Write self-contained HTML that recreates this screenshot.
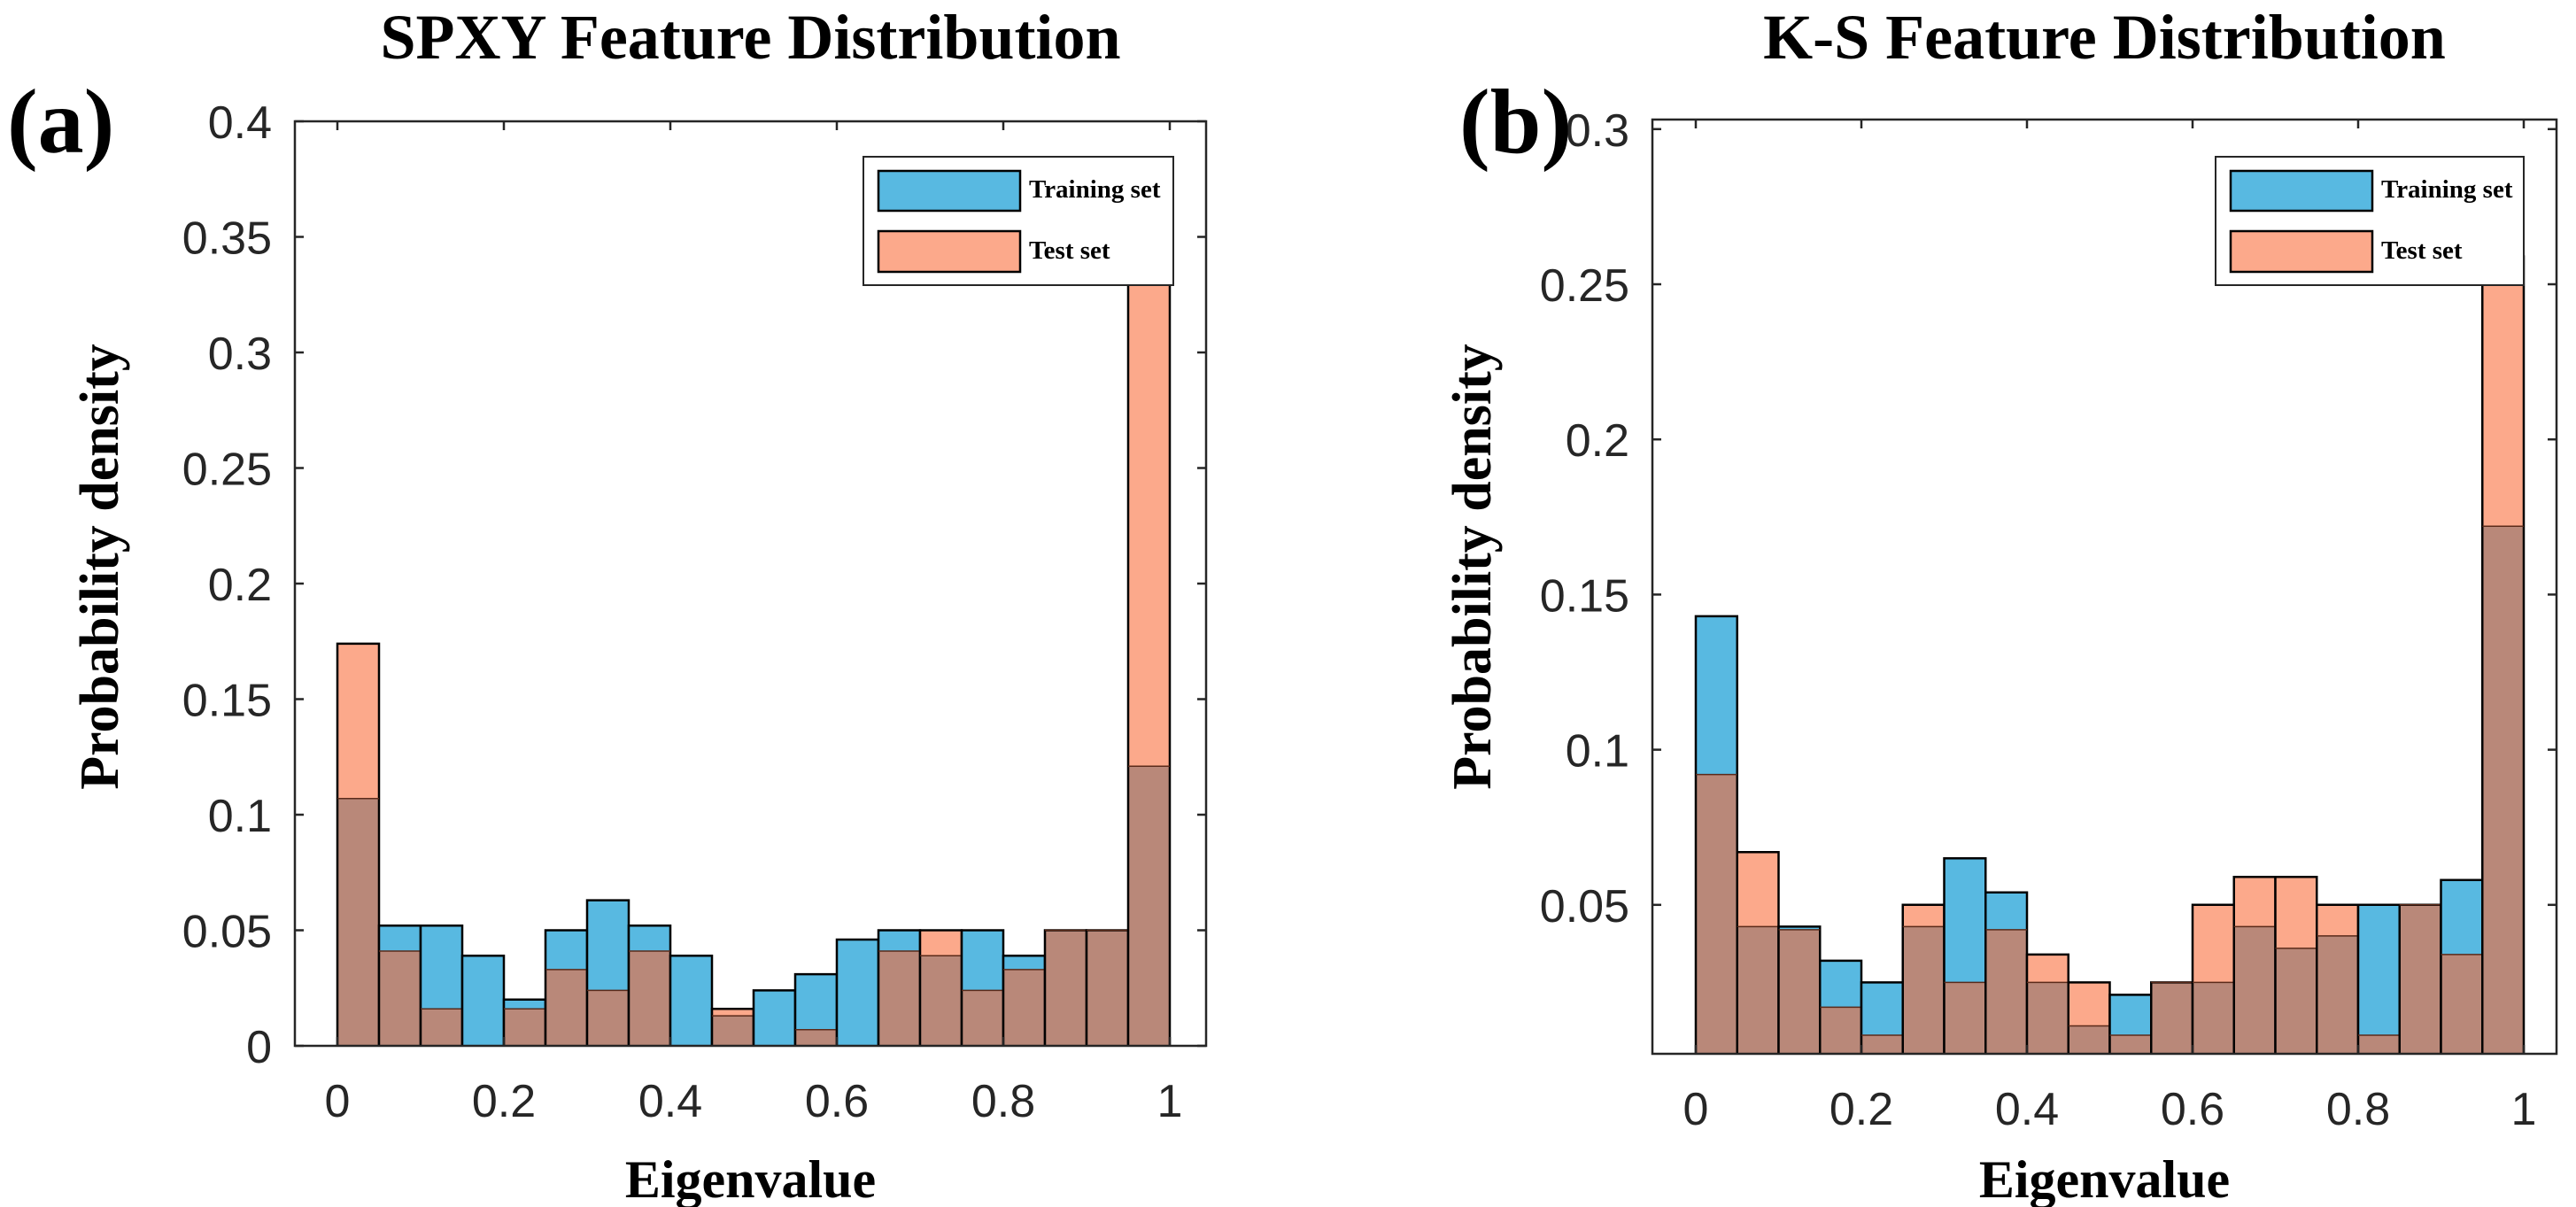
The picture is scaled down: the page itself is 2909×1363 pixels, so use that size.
<!DOCTYPE html>
<html><head><meta charset="utf-8">
<style>
html,body{margin:0;padding:0;background:#fff;}
svg{display:block;}
.tick{font-family:"Liberation Sans",Arial,sans-serif;font-size:52px;fill:#262626;}
.ser{font-family:"Liberation Serif","Times New Roman",serif;font-weight:bold;fill:#000;}
</style></head>
<body>
<svg id="fig" width="2909" height="1363" viewBox="0 0 2909 1363" xmlns="http://www.w3.org/2000/svg">
</svg>
<script>
// ---- data ----
const binEdges = [0,0.05,0.1,0.15,0.2,0.25,0.3,0.35,0.4,0.45,0.5,0.55,0.6,0.65,0.7,0.75,0.8,0.85,0.9,0.95,1.0];
const spxyTrain = [0.107,0.052,0.052,0.039,0.020,0.050,0.063,0.052,0.039,0.013,0.024,0.031,0.046,0.050,0.039,0.050,0.039,0.050,0.050,0.121];
const spxyTest  = [0.174,0.041,0.016,0.000,0.016,0.033,0.024,0.041,0.000,0.016,0.000,0.007,0.000,0.041,0.050,0.024,0.033,0.050,0.050,0.340];
const ksTrain = [0.143,0.043,0.043,0.032,0.025,0.043,0.065,0.054,0.025,0.011,0.021,0.025,0.025,0.043,0.036,0.040,0.050,0.050,0.058,0.172];
const ksTest  = [0.092,0.067,0.042,0.017,0.008,0.050,0.025,0.042,0.034,0.025,0.008,0.025,0.050,0.059,0.059,0.050,0.008,0.050,0.034,0.259];
const xTicks = [0,0.2,0.4,0.6,0.8,1];
const xTickLabels = ["0","0.2","0.4","0.6","0.8","1"];
const spxyYTicks = [0,0.05,0.1,0.15,0.2,0.25,0.3,0.35,0.4];
const spxyYLabels = ["0","0.05","0.1","0.15","0.2","0.25","0.3","0.35","0.4"];
const ksYTicks = [0.05,0.1,0.15,0.2,0.25,0.3];
const ksYLabels = ["0.05","0.1","0.15","0.2","0.25","0.3"];

const NS = "http://www.w3.org/2000/svg";
const svg = document.getElementById('fig');
function mk(tag, attrs, parent){
  const e = document.createElementNS(NS, tag);
  for (const k in attrs) e.setAttribute(k, attrs[k]);
  (parent||svg).appendChild(e);
  return e;
}

function panel(cfg){
  const g = mk('g', {});
  
  
  const X = v => cfg.x0 + v*cfg.xs;
  const Y = v => Math.min(cfg.bottom, cfg.y0 - v*cfg.ys);
  for (let i=0;i<cfg.train.length;i++){
    const xa = X(binEdges[i]), xb = X(binEdges[i+1]);
    const tr = cfg.train[i], te = cfg.test[i], lo = Math.min(tr,te);
    if (tr > 0){
      const r = mk('rect',{x:xa,y:Y(tr),width:xb-xa,height:Y(0)-Y(tr),fill:'#58b9e1'},g);
      
      
    }
    if (te > 0){
      const r = mk('rect',{x:xa,y:Y(te),width:xb-xa,height:Y(0)-Y(te),fill:'#fca98b'},g);
      
      
    }
    if (lo > 0){
      mk('rect',{x:xa,y:Y(lo),width:xb-xa,height:Y(0)-Y(lo),fill:'#b98879'},g);
    }
    const hi = Math.max(tr,te);
    if (hi > 0){
      mk('path',{d:`M${xa},${Y(0)}V${Y(hi)}H${xb}V${Y(0)}`,fill:'none',stroke:'#000','stroke-width':2.5},g);
      if (lo>0) mk('line',{x1:xa,x2:xb,y1:Y(lo),y2:Y(lo),stroke:'#5a2a1a','stroke-width':1.5},g);
    }
  }
  const ax = mk('rect',{x:cfg.left,y:cfg.top,width:cfg.right-cfg.left,height:cfg.bottom-cfg.top,fill:'none',stroke:'#262626','stroke-width':2.5},g);
  
  
  xTicks.forEach((t,i)=>{
    const x = X(t);
    mk('line',{x1:x,x2:x,y1:cfg.bottom,y2:cfg.bottom-10,stroke:'#262626','stroke-width':2.5},g);
    mk('line',{x1:x,x2:x,y1:cfg.top,y2:cfg.top+10,stroke:'#262626','stroke-width':2.5},g);
    const tx = mk('text',{x:x,y:cfg.bottom+80,'text-anchor':'middle',class:'tick'},g);
    tx.textContent = xTickLabels[i];
    
    
  });
  cfg.yt.forEach((t,i)=>{
    const y = cfg.y0 - t*cfg.ys;
    mk('line',{x1:cfg.left,x2:cfg.left+10,y1:y,y2:y,stroke:'#262626','stroke-width':2.5},g);
    mk('line',{x1:cfg.right,x2:cfg.right-10,y1:y,y2:y,stroke:'#262626','stroke-width':2.5},g);
    const tx = mk('text',{x:cfg.left-26,y:y+19,'text-anchor':'end',class:'tick'},g);
    tx.textContent = cfg.yl[i];
    
    
  });
  const lg = mk('g',{},g);
  
  
  mk('rect',{x:cfg.lx,y:177,width:cfg.lw,height:145,fill:'#fff',stroke:'#262626','stroke-width':2},lg);
  mk('rect',{x:cfg.lx+17,y:193,width:160,height:45,fill:'#58b9e1',stroke:'#000','stroke-width':2.5},lg);
  mk('rect',{x:cfg.lx+17,y:261,width:160,height:46,fill:'#fca98b',stroke:'#000','stroke-width':2.5},lg);
  const t1 = mk('text',{x:cfg.lx+187,y:223,class:'ser','font-size':29},lg);
  t1.textContent = 'Training set';
  
  
  const t2 = mk('text',{x:cfg.lx+187,y:292,class:'ser','font-size':29},lg);
  t2.textContent = 'Test set';
  
  
  const cx = (cfg.left+cfg.right)/2;
  const ti = mk('text',{x:cx,y:66,'text-anchor':'middle',class:'ser','font-size':72},g);
  ti.textContent = cfg.title;
  
  
  const xl = mk('text',{x:cx,y:1352,'text-anchor':'middle',class:'ser','font-size':60},g);
  xl.textContent = 'Eigenvalue';
  
  
  const yc = cfg.ylc, yx = cfg.ylx;
  const yl = mk('text',{x:yx,y:yc,'text-anchor':'middle',class:'ser','font-size':62,transform:`rotate(-90 ${yx} ${yc})`},g);
  yl.textContent = 'Probability density';
  
  
  const pl = mk('text',{x:cfg.plx,y:172,class:'ser','font-size':104},g);
  pl.textContent = cfg.panelLabel;
  
  
}

panel({name:'spxy-chart', title:'SPXY Feature Distribution', panelLabel:'(a)', plx:8,
  left:333,right:1362,top:137,bottom:1181, x0:381,xs:940, y0:1181,ys:2610,
  train:spxyTrain,test:spxyTest, yt:spxyYTicks,yl:spxyYLabels, lx:975,lw:350, ylx:133, ylc:640});
panel({name:'ks-chart', title:'K-S Feature Distribution', panelLabel:'(b)', plx:1648,
  left:1866,right:2887,top:135,bottom:1190, x0:1915,xs:935, y0:1197,ys:3504,
  train:ksTrain,test:ksTest, yt:ksYTicks,yl:ksYLabels, lx:2502,lw:348, ylx:1683, ylc:640});
</script>
</body></html>
